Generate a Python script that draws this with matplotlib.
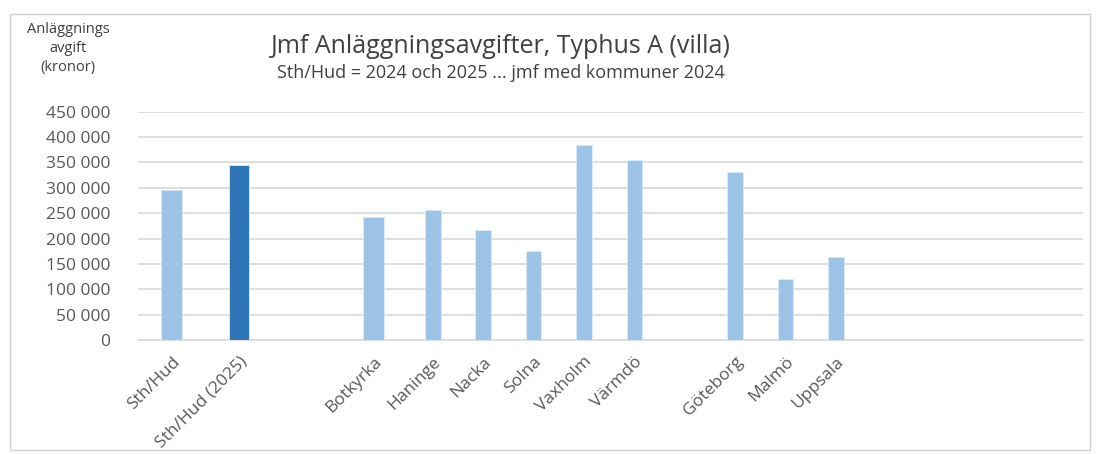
import numpy as np
import matplotlib
matplotlib.use('Agg')
import matplotlib.pyplot as plt
from matplotlib.patches import Rectangle
from matplotlib.ticker import FuncFormatter

plt.rcParams['font.family'] = ['Open Sans', 'DejaVu Sans']

# data (Excel-style: empty categories give the gaps)
categories = ['Sth/Hud', 'Sth/Hud (2025)', '', 'Botkyrka', 'Haninge', 'Nacka', 'Solna',
              'Vaxholm', 'Värmdö', '', 'Göteborg', 'Malmö', 'Uppsala', '', '', '', '']
values = [295000, 344000, np.nan, 243000, 257000, 217000, 176000,
          384000, 354000, np.nan, 332000, 120000, 163000, np.nan, np.nan, np.nan, np.nan]
yticks = [0, 50000, 100000, 150000, 200000, 250000, 300000, 350000, 400000, 450000]

title = 'Jmf Anläggningsavgifter, Typhus A (villa)'
subtitle = 'Sth/Hud = 2024 och 2025 ... jmf med kommuner 2024'
ylab = 'Anläggnings\navgift\n(kronor)'

light = '#9DC3E6'
dark = '#2E75B6'
grey = '#595959'

# the source picture is wider on the left part, mimic with a piecewise scale
brk, k = 3.5, 50.5 / 67.5
def fwd(s):
    s = np.asarray(s, dtype=float)
    return np.where(s <= brk, s, brk + (s - brk) * k)
def inv(t):
    t = np.asarray(t, dtype=float)
    return np.where(t <= brk, t, brk + (t - brk) / k)

fig = plt.figure(figsize=(11.01, 4.54), dpi=100)
ax = fig.add_axes([0.1253, 0.2511, 0.8584, 0.503])
ax.set_xscale('function', functions=(fwd, inv))

x = np.arange(len(categories))
colors = [dark if '2025' in c else light for c in categories]
ax.bar(x, values, width=0.31, color=colors, edgecolor='#DDEBF7', linewidth=0.6, zorder=3)

ax.set_xlim(-0.5, 16.9)
ax.set_ylim(0, 450000)
ax.set_yticks(yticks)
ax.yaxis.set_major_formatter(FuncFormatter(lambda v, p: f'{int(v):,}'.replace(',', ' ')))
ax.grid(axis='y', color='#D9D9D9', linewidth=1.2, zorder=0)
ax.set_xticks(x)
ax.set_xticklabels(categories, rotation=45, ha='right', rotation_mode='anchor')
ax.xaxis.set_minor_locator(plt.NullLocator())
for s in ['top', 'right', 'left']:
    ax.spines[s].set_visible(False)
ax.spines['bottom'].set_color('#D9D9D9')
ax.spines['bottom'].set_linewidth(1.2)
ax.tick_params(axis='both', length=0, colors=grey, labelsize=12.5)
ax.tick_params(axis='y', pad=20)
ax.tick_params(axis='x', pad=10)

fig.text(0.455, 0.897, title, ha='center', va='center', fontsize=18, color='#404040')
fig.text(0.455, 0.84, subtitle, ha='center', va='center', fontsize=13, color='#404040')
fig.text(0.062, 0.893, ylab, ha='center', va='center', fontsize=10.5, color='#404040',
         linespacing=1.35)

fig.patches.append(Rectangle((0.009, 0.008), 0.981, 0.962, transform=fig.transFigure,
                             fill=False, edgecolor='#D0D0D0', linewidth=1))

fig.savefig('out.png', dpi=100)
